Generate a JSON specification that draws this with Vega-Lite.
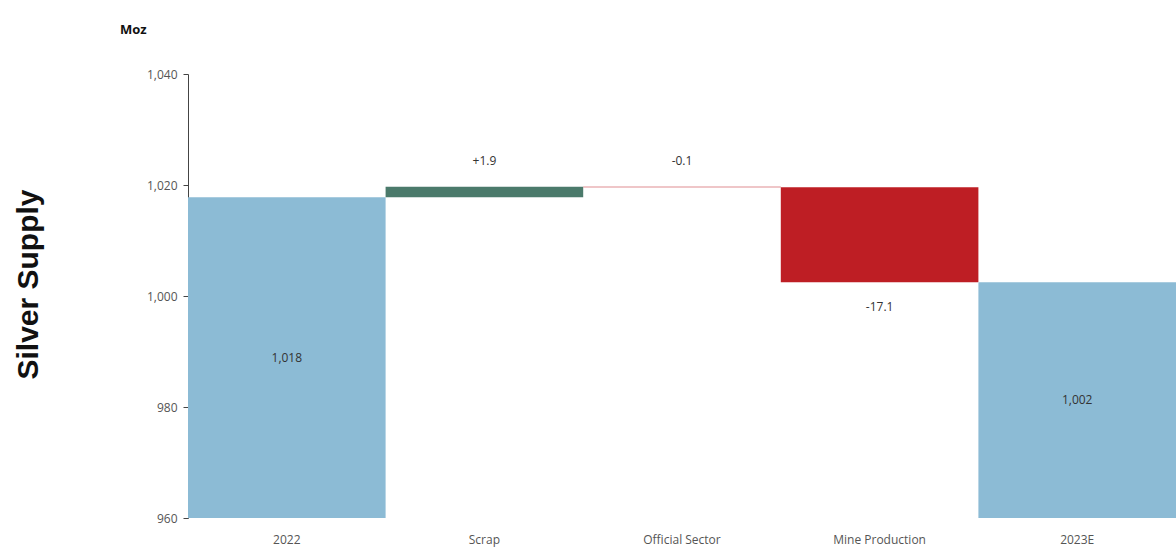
{
  "$schema": "https://vega.github.io/schema/vega-lite/v6.json",
  "width": 988,
  "height": 444,
  "autosize": "none",
  "padding": {"left": 188, "top": 74, "right": 0, "bottom": 35},
  "background": "white",
  "config": {"view": {"stroke": null}},
  "title": {"text": "Moz", "anchor": "start", "frame": "group", "dx": -68, "offset": 31, "fontSize": 13, "fontWeight": "bold", "font": "Open Sans", "color": "#111"},
  "data": {"values": [
    {"category": "2022", "start": 960, "end": 1017.8, "type": "total", "label": "1,018"},
    {"category": "Scrap", "start": 1017.8, "end": 1019.7, "type": "increase", "label": "+1.9"},
    {"category": "Official Sector", "start": 1019.7, "end": 1019.6, "type": "decrease", "label": "-0.1"},
    {"category": "Mine Production", "start": 1019.6, "end": 1002.5, "type": "decrease", "label": "-17.1"},
    {"category": "2023E", "start": 960, "end": 1002.5, "type": "total", "label": "1,002"}
  ]},
  "encoding": {
    "x": {"field": "category", "type": "nominal", "sort": null,
      "scale": {"paddingInner": 0, "paddingOuter": 0},
      "axis": {"title": null, "labelAngle": 0, "domain": false, "ticks": false, "labelPadding": 16, "labelFontSize": 12, "labelColor": "#555", "labelFont": "Open Sans"}}
  },
  "layer": [
    {
      "mark": {"type": "bar", "stroke": null},
      "encoding": {
        "y": {"field": "start", "type": "quantitative",
          "scale": {"domain": [960, 1040], "zero": false, "nice": false},
          "axis": {"title": "Silver Supply", "values": [960, 980, 1000, 1020, 1040], "format": ",", "grid": false,
            "domainColor": "#444", "tickColor": "#444", "tickSize": 5, "labelPadding": 6,
            "labelFontSize": 12, "labelColor": "#555", "labelFont": "Open Sans",
            "titleFont": "Liberation Sans", "titleFontSize": 30, "titleFontWeight": "bold", "titleColor": "#111",
            "titleX": -160, "titleY": 210, "titleAngle": -90, "titleBaseline": "middle", "titleAlign": "center"}},
        "y2": {"field": "end"},
        "color": {"field": "type", "type": "nominal", "legend": null,
          "scale": {"domain": ["total", "increase", "decrease"], "range": ["#8cbbd5", "#4b7a6b", "#be1e24"]}}
      }
    },
    {
      "transform": [{"filter": "datum.type == 'total'"}, {"calculate": "(datum.start + datum.end) / 2", "as": "mid"}],
      "mark": {"type": "text", "fontSize": 12, "font": "Open Sans", "color": "#333"},
      "encoding": {"y": {"field": "mid", "type": "quantitative"}, "text": {"field": "label"}}
    },
    {
      "transform": [{"filter": "datum.type != 'total' && datum.end - datum.start > -1"}, {"calculate": "max(datum.start, datum.end)", "as": "top"}],
      "mark": {"type": "text", "fontSize": 12, "font": "Open Sans", "color": "#333", "dy": -26},
      "encoding": {"y": {"field": "top", "type": "quantitative"}, "text": {"field": "label"}}
    },
    {
      "transform": [{"filter": "datum.type != 'total' && datum.end - datum.start <= -1"}, {"calculate": "min(datum.start, datum.end)", "as": "bottom"}],
      "mark": {"type": "text", "fontSize": 12, "font": "Open Sans", "color": "#333", "dy": 25},
      "encoding": {"y": {"field": "bottom", "type": "quantitative"}, "text": {"field": "label"}}
    }
  ]
}
